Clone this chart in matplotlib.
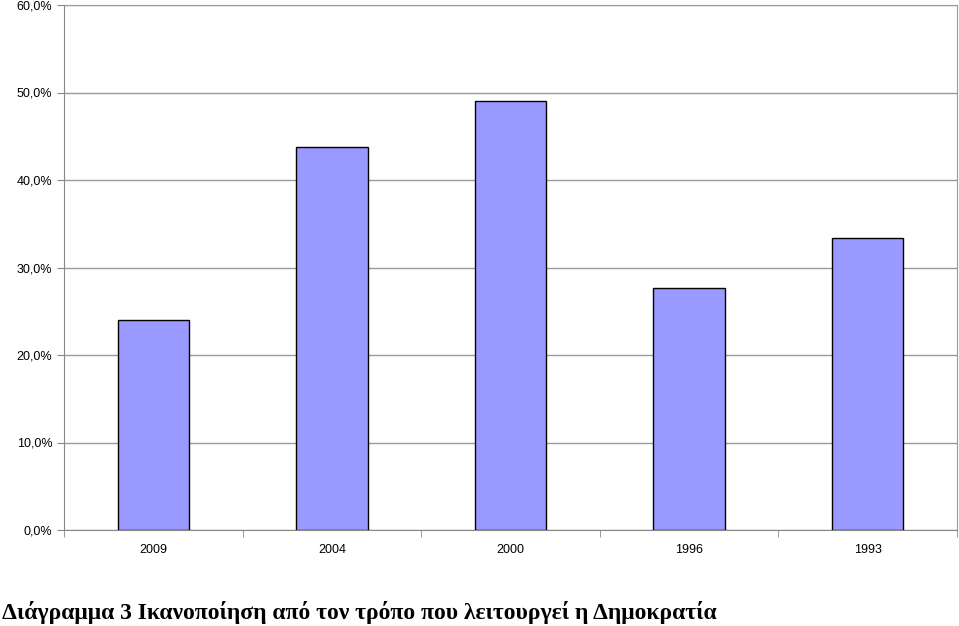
import numpy as np
import matplotlib.pyplot as plt
from matplotlib.ticker import FuncFormatter, MultipleLocator

years = ['2009', '2004', '2000', '1996', '1993']
values = [24.0, 43.8, 49.0, 27.7, 33.4]
caption = 'Διάγραμμα 3 Ικανοποίηση από τον τρόπο που λειτουργεί η Δημοκρατία'

fig = plt.figure(figsize=(9.59, 6.26), dpi=100)
ax = fig.add_axes([64 / 959, 1 - 530 / 626, 893 / 959, 525 / 626])

x = np.arange(len(years))
ax.bar(x, values, width=0.4, color='#9999ff', edgecolor='black', linewidth=1, zorder=3)

ax.set_xlim(-0.5, len(years) - 0.5)
ax.set_ylim(0, 60)
ax.yaxis.set_major_locator(MultipleLocator(10))
ax.yaxis.set_major_formatter(FuncFormatter(lambda v, p: f'{v:.1f}%'.replace('.', ',')))
ax.grid(axis='y', color='#999999', linewidth=1, zorder=0)

ax.set_xticks(x)
ax.set_xticklabels(years)
ax.set_xticks(np.arange(-0.5, len(years)), minor=True)
ax.tick_params(axis='x', which='major', length=0, pad=10)
ax.tick_params(axis='x', which='minor', length=5, color='#888888')
ax.tick_params(axis='y', length=5, color='#888888')
for lbl in ax.get_xticklabels() + ax.get_yticklabels():
    lbl.set_fontsize(9)
    lbl.set_family('Liberation Sans')

for side in ['top', 'right']:
    ax.spines[side].set_color('#999999')
for side in ['left', 'bottom']:
    ax.spines[side].set_color('#888888')

fig.text(2 / 959, 1 - 612 / 626, caption, fontsize=17, fontweight='bold',
         family='Liberation Serif', va='center', ha='left')

fig.savefig('out.png', dpi=100)
